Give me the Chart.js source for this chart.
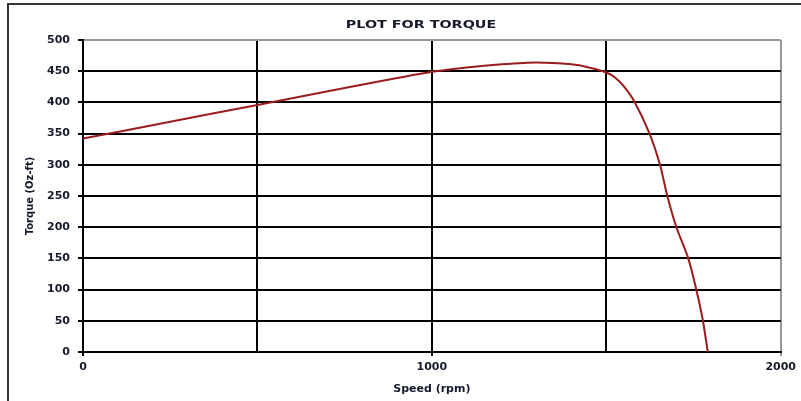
<!DOCTYPE html>
<html>
<head>
<meta charset="utf-8">
<script src="https://cdn.jsdelivr.net/npm/chart.js@4/dist/chart.umd.min.js"></script>
<style>
html,body{margin:0;padding:0;background:#fff;}
#wrap{width:801px;height:401px;position:relative;}
</style>
</head>
<body>
<div id="wrap"><canvas id="c" width="801" height="401"></canvas></div>
<script>
const chartTitle = 'PLOT FOR TORQUE';
const xTitle = 'Speed (rpm)';
const yTitle = 'Torque (Oz-ft)';
const speeds  = [0, 250, 500, 750, 1000, 1100, 1200, 1300, 1400, 1450, 1500, 1525, 1550, 1582, 1624, 1654, 1675, 1701, 1735, 1758, 1777, 1791];
const torques = [342, 369, 396, 423, 449, 456, 461, 464, 461, 456, 448, 440, 426, 400, 350, 300, 250, 200, 150, 100, 50, 0];
const xLabelValues = [0, 1000, 2000];

const points = speeds.map((s, i) => ({x: s, y: torques[i]}));

const framePlugin = {
  id: 'frame',
  beforeDraw(chart) {
    const ctx = chart.ctx;
    ctx.save();
    ctx.fillStyle = '#fff';
    ctx.fillRect(0, 0, chart.width, chart.height);
    ctx.strokeStyle = '#333';
    ctx.lineWidth = 2;
    ctx.beginPath();
    ctx.moveTo(8, 401);
    ctx.lineTo(8, 4);
    ctx.lineTo(801, 4);
    ctx.stroke();
    ctx.restore();
  },
  afterDraw(chart) {
    const ctx = chart.ctx;
    ctx.save();
    ctx.font = 'bold 11px "DejaVu Sans"';
    ctx.fillStyle = '#141a2a';
    ctx.textAlign = 'center';
    ctx.textBaseline = 'middle';
    ctx.translate(421, 25);
    ctx.scale(1.3, 1);
    ctx.fillText(chartTitle, 0, 0);
    ctx.restore();
  }
};

new Chart(document.getElementById('c'), {
  type: 'scatter',
  data: {
    datasets: [{
      data: points,
      showLine: true,
      borderColor: '#9b1c1c',
      borderWidth: 2,
      pointRadius: 0,
      tension: 0.25,
      fill: false
    }]
  },
  options: {
    responsive: false,
    animation: false,
    layout: {padding: {left: 20, right: 19, top: 40, bottom: 0}},
    plugins: {legend: {display: false}, tooltip: {enabled: false}, title: {display: false}},
    scales: {
      x: {
        type: 'linear', min: 0, max: 2000,
        afterFit(s) { s.height = 49; },
        ticks: {
          stepSize: 500, padding: 5, maxRotation: 0,
          color: '#141a2a',
          font: {family: '"DejaVu Sans"', size: 11, weight: 'bold'},
          callback: (v) => xLabelValues.includes(v) ? String(v) : ''
        },
        grid: {
          color: (c) => c.tick && c.tick.value === 2000 ? '#999' : '#000',
          lineWidth: 2,
          tickLength: 4,
          tickColor: (c) => c.tick && xLabelValues.includes(c.tick.value) ? (c.tick.value === 2000 ? '#999' : '#000') : 'rgba(0,0,0,0)'
        },
        border: {color: '#000', width: 2},
        title: {
          display: true, text: xTitle, color: '#141a2a',
          font: {family: '"DejaVu Sans"', size: 11, weight: 'bold'},
          padding: {top: 0, bottom: 5}
        }
      },
      y: {
        type: 'linear', min: 0, max: 500,
        afterFit(s) { s.width = 63; },
        ticks: {
          stepSize: 50, padding: 8,
          color: '#141a2a',
          font: {family: '"DejaVu Sans"', size: 11, weight: 'bold'}
        },
        grid: {
          color: (c) => c.tick && c.tick.value === 500 ? '#999' : '#000',
          lineWidth: 2,
          tickLength: 5,
          tickColor: '#000'
        },
        border: {color: '#000', width: 2},
        title: {
          display: true, text: yTitle, color: '#141a2a',
          font: {family: '"DejaVu Sans"', size: 10, weight: 'bold'},
          padding: {top: 4, bottom: 0}
        }
      }
    }
  },
  plugins: [framePlugin]
});
</script>
</body>
</html>
